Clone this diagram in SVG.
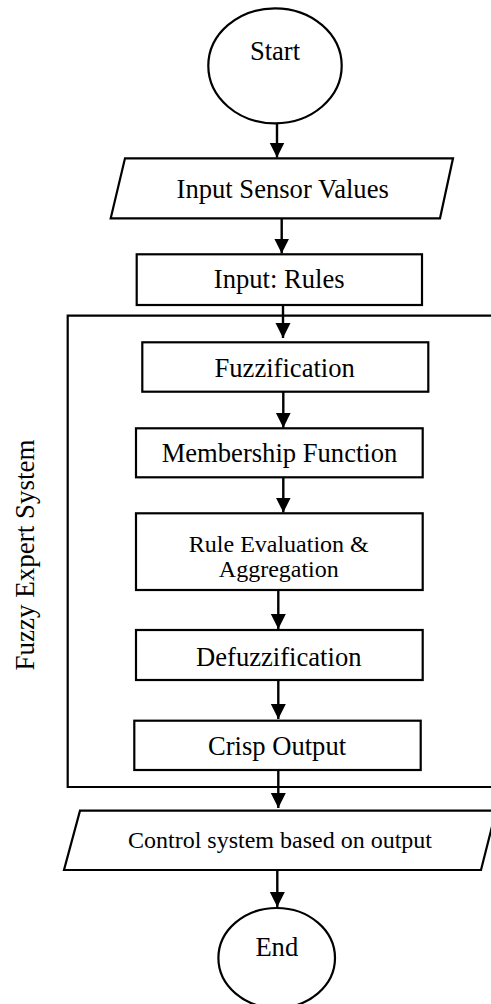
<svg xmlns="http://www.w3.org/2000/svg" width="491" height="1004" viewBox="0 0 491 1004">
<style>
.s{fill:#fff;stroke:#000;stroke-width:2.2}
.f{fill:none;stroke:#000;stroke-width:2.2}
.t{font-family:"Liberation Serif","Times New Roman",serif;font-size:26.6px;fill:#000;text-anchor:middle}
.sm{font-size:24px}
.vt{font-size:27px}
.c line{stroke:#000;stroke-width:2.4}
</style>
<defs>
<marker id="ah" markerUnits="userSpaceOnUse" markerWidth="16" markerHeight="16" refX="15" refY="7.5" orient="auto">
<path d="M0,0 L15,7.5 L0,15 Z" fill="#000"/>
</marker>
</defs>
<rect width="491" height="1004" fill="#fff"/>
<g id="frame">
<path class="f" d="M495,315.7 H67.7 V787 H495"/>
<text class="t vt" transform="translate(33.5,555) rotate(-90)">Fuzzy Expert System</text>
</g>
<g id="start">
<ellipse class="s" cx="275" cy="65.8" rx="66.7" ry="57.5"/>
<text class="t" x="275" y="59.5">Start</text>
</g>
<g id="input-sensor">
<polygon class="s" points="125,158.3 453,158.3 440,218.3 110.7,218.3"/>
<text class="t" x="282.7" y="198">Input Sensor Values</text>
</g>
<g id="input-rules">
<rect class="s" x="136.7" y="254.3" width="285.3" height="50.7"/>
<text class="t" x="279.2" y="288">Input: Rules</text>
</g>
<g id="fuzzification">
<rect class="s" x="142.3" y="342.3" width="286" height="49.4"/>
<text class="t" x="284.7" y="376.7">Fuzzification</text>
</g>
<g id="membership">
<rect class="s" x="136" y="428.3" width="286.7" height="49"/>
<text class="t" x="279.5" y="462.3">Membership Function</text>
</g>
<g id="rule-eval">
<rect class="s" x="136" y="513.3" width="286.7" height="76.7"/>
<text class="t sm" x="278.8" y="552">Rule Evaluation &amp;</text>
<text class="t sm" x="278.8" y="577">Aggregation</text>
</g>
<g id="defuzzification">
<rect class="s" x="136" y="630" width="286.7" height="50"/>
<text class="t" x="278.8" y="666">Defuzzification</text>
</g>
<g id="crisp">
<rect class="s" x="134.3" y="720.7" width="286.4" height="49.3"/>
<text class="t" x="277" y="755">Crisp Output</text>
</g>
<g id="control">
<polygon class="s" points="80,810.7 496,810.7 481,870 64,870"/>
<text class="t sm" x="280" y="848">Control system based on output</text>
</g>
<g id="end">
<ellipse class="s" cx="276.7" cy="958" rx="58.3" ry="50"/>
<text class="t" x="276.8" y="955.7">End</text>
</g>
<g id="connectors" class="c">
<line x1="277" y1="123.3" x2="277" y2="157.5" marker-end="url(#ah)"/>
<line x1="281.7" y1="218.3" x2="281.7" y2="253.5" marker-end="url(#ah)"/>
<line x1="283" y1="305" x2="283" y2="338" marker-end="url(#ah)"/>
<line x1="283.3" y1="391.7" x2="283.3" y2="427.7" marker-end="url(#ah)"/>
<line x1="283.3" y1="477.3" x2="283.3" y2="512.5" marker-end="url(#ah)"/>
<line x1="278.3" y1="590" x2="278.3" y2="629" marker-end="url(#ah)"/>
<line x1="278.3" y1="680" x2="278.3" y2="719" marker-end="url(#ah)"/>
<line x1="278.3" y1="770" x2="278.3" y2="808" marker-end="url(#ah)"/>
<line x1="277.3" y1="870" x2="277.3" y2="907" marker-end="url(#ah)"/>
</g>
</svg>
